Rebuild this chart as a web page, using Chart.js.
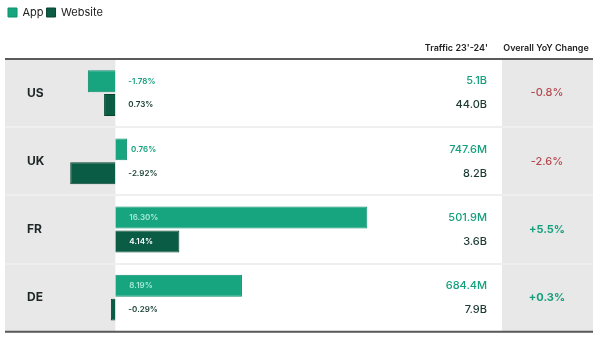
<!DOCTYPE html>
<html>
<head>
<meta charset="utf-8">
<script src="https://cdn.jsdelivr.net/npm/chart.js@4/dist/chart.umd.min.js"></script>
<style>
  html, body { margin: 0; padding: 0; background: #fff; }
  #wrap { width: 601px; height: 361px; position: relative; }
</style>
</head>
<body>
<div id="wrap"><canvas id="trafficChart"></canvas></div>
<script>
// data
const countries = ['US', 'UK', 'FR', 'DE'];
const appChange = [-1.78, 0.76, 16.30, 8.19];       // bar lengths, %
const webChange = [-0.73, -2.92, 4.14, -0.29];
const appChangeText = ['-1.78%', '0.76%', '16.30%', '8.19%'];
const webChangeText = ['0.73%', '-2.92%', '4.14%', '-0.29%'];
const appTraffic = ['5.1B', '747.6M', '501.9M', '684.4M'];
const webTraffic = ['44.0B', '8.2B', '3.6B', '7.9B'];
const yoyChange = ['-0.8%', '-2.6%', '+5.5%', '+0.3%'];

const APP_COLOR = '#16a57f';
const WEB_COLOR = '#0b5c45';
const FONT = 'Inter, "DejaVu Sans", sans-serif';

// gray panels, header, top/bottom rules and all the side texts
const tablePlugin = {
  id: 'tablePlugin',
  beforeDraw(chart) {
    const {ctx, chartArea: a, scales} = chart;
    const zeroX = scales.x.getPixelForValue(0);
    ctx.save();
    ctx.fillStyle = '#e8e8e8';
    ctx.fillRect(a.left, a.top, zeroX - a.left, a.bottom - a.top);
    ctx.fillRect(502, a.top, a.right - 502, a.bottom - a.top);
    ctx.restore();
  },
  afterDatasetsDraw(chart) {
    const {ctx, chartArea: a, scales} = chart;
    const zeroX = scales.x.getPixelForValue(0);
    const metaApp = chart.getDatasetMeta(0);
    const metaWeb = chart.getDatasetMeta(1);
    ctx.save();
    ctx.textBaseline = 'middle';
    ctx.font = '600 8px ' + FONT;

    // bar value labels
    const drawLabels = (meta, texts, values, outColor, inColor) => {
      meta.data.forEach((bar, i) => {
        const txt = texts[i];
        const w = ctx.measureText(txt).width;
        const len = Math.abs(bar.x - zeroX);
        ctx.textAlign = 'left';
        if (values[i] > 0 && len > w + 24) {
          ctx.fillStyle = inColor;
          ctx.fillText(txt, zeroX + 14, bar.y);
        } else {
          ctx.fillStyle = outColor;
          ctx.fillText(txt, Math.max(zeroX + 13, bar.x + 4), bar.y);
        }
      });
    };
    drawLabels(metaApp, appChangeText, appChange, '#14a07c', 'rgba(190,245,230,0.85)');
    drawLabels(metaWeb, webChangeText, webChange, '#173d33', '#ffffff');

    // traffic column
    ctx.font = '500 11px ' + FONT;
    ctx.textAlign = 'right';
    metaApp.data.forEach((bar, i) => {
      ctx.fillStyle = '#14a07c';
      ctx.fillText(appTraffic[i], 487, bar.y);
    });
    metaWeb.data.forEach((bar, i) => {
      ctx.fillStyle = '#1c3a33';
      ctx.fillText(webTraffic[i], 487, bar.y);
    });

    // YoY column
    ctx.textAlign = 'center';
    yoyChange.forEach((txt, i) => {
      const y = scales.y.getPixelForValue(i);
      const neg = txt.startsWith('-');
      ctx.font = (neg ? '500 ' : '700 ') + '11px ' + FONT;
      ctx.fillStyle = neg ? '#b5474f' : '#14a07c';
      ctx.fillText(txt, 547, y);
    });

    // header
    ctx.font = '600 9px ' + FONT;
    ctx.fillStyle = '#222';
    ctx.textAlign = 'right';
    ctx.fillText("Traffic 23'-24'", 488, 48);
    ctx.textAlign = 'center';
    ctx.fillText('Overall YoY Change', 546, 48);

    // top & bottom rules
    ctx.strokeStyle = '#5a5a5a';
    ctx.lineWidth = 2;
    ctx.beginPath();
    ctx.moveTo(a.left, a.top);
    ctx.lineTo(a.right, a.top);
    ctx.moveTo(a.left, a.bottom);
    ctx.lineTo(a.right, a.bottom);
    ctx.stroke();
    ctx.restore();
  }
};

const ctx = document.getElementById('trafficChart').getContext('2d');
new Chart(ctx, {
  type: 'bar',
  data: {
    labels: countries,
    datasets: [
      {
        label: 'App',
        data: appChange,
        backgroundColor: APP_COLOR,
        borderColor: '#0f8f6c',
        borderWidth: 1
      },
      {
        label: 'Website',
        data: webChange,
        backgroundColor: WEB_COLOR,
        borderColor: '#07442f',
        borderWidth: 1
      }
    ]
  },
  options: {
    indexAxis: 'y',
    responsive: true,
    maintainAspectRatio: false,
    animation: false,
    layout: {padding: {left: 5, right: 8, top: 4, bottom: 20}},
    categoryPercentage: 0.7,
    barPercentage: 0.92,
    scales: {
      x: {
        position: 'top',
        min: -7.14,
        max: 30.9,
        grid: {display: false},
        border: {display: false},
        ticks: {display: false},
        afterFit: (scale) => { scale.height = 31; }
      },
      y: {
        grid: {color: '#efefef', lineWidth: 2, drawTicks: false},
        border: {display: false},
        ticks: {
          mirror: true,
          padding: 22,
          color: '#1e2626',
          font: {family: FONT, size: 12, weight: '700'}
        },
        afterFit: (scale) => { scale.width = 0; }
      }
    },
    plugins: {
      legend: {
        position: 'top',
        align: 'start',
        labels: {
          boxWidth: 9,
          boxHeight: 9,
          padding: 3,
          color: '#222',
          font: {family: FONT, size: 11}
        }
      },
      tooltip: {enabled: false}
    }
  },
  plugins: [tablePlugin]
});
</script>
</body>
</html>
